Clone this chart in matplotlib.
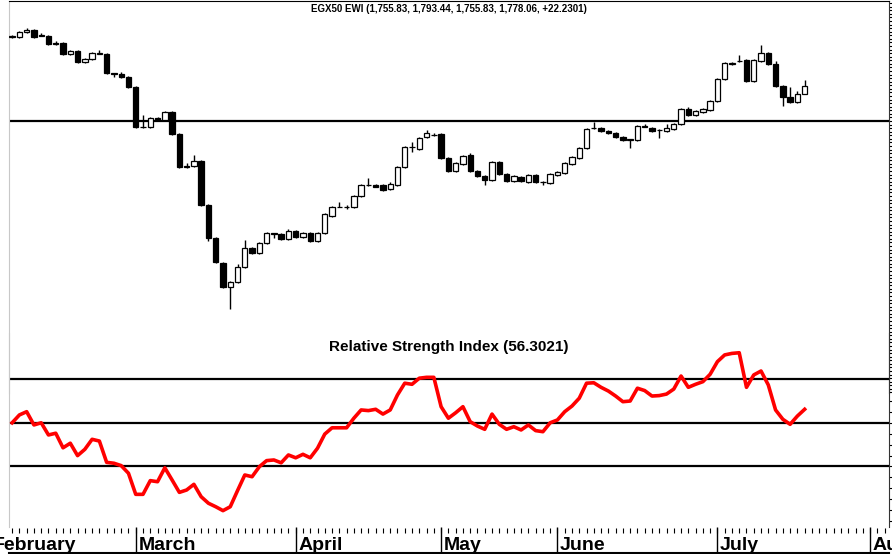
import matplotlib
matplotlib.use("Agg")
import matplotlib.pyplot as plt
import numpy as np

plt.rcParams["font.family"] = ["Liberation Sans", "DejaVu Sans"]

# ── Data (daily, EGX50 EWI, Feb 5 .. Jul 2020, trading-day index) ────────────
OPEN = [1917, 1915, 1929, 1935, 1921, 1918, 1898, 1898, 1868, 1876,
        1845, 1854, 1869, 1868, 1814, 1812, 1803, 1775, 1663, 1663,
        1688, 1683, 1705, 1644, 1553, 1554, 1568, 1445, 1352, 1282,
        1215, 1229, 1271, 1324, 1310, 1338, 1366, 1364, 1350, 1372,
        1355, 1366, 1344, 1366, 1414, 1439, 1439, 1439, 1470, 1501,
        1501, 1501, 1490, 1501, 1551, 1607, 1602, 1635, 1640, 1644,
        1576, 1540, 1560, 1585, 1540, 1526, 1515, 1565, 1532, 1512,
        1523, 1509, 1529, 1509, 1506, 1529, 1534, 1560, 1576, 1604,
        1660, 1660, 1652, 1646, 1635, 1628, 1627, 1666, 1660, 1655,
        1652, 1658, 1672, 1714, 1697, 1705, 1711, 1736, 1798, 1840,
        1848, 1851, 1792, 1848, 1870, 1840, 1778, 1747, 1733, 1755.83]
HIGH = [1920, 1931, 1940, 1937, 1926, 1920, 1904, 1900, 1878, 1878,
        1856, 1872, 1879, 1870, 1815, 1817, 1806, 1777, 1697, 1690,
        1690, 1707, 1707, 1646, 1562, 1585, 1570, 1447, 1354, 1284,
        1231, 1280, 1347, 1327, 1340, 1368, 1367, 1366, 1378, 1374,
        1368, 1368, 1368, 1422, 1441, 1453, 1445, 1472, 1503, 1520,
        1503, 1503, 1509, 1553, 1609, 1621, 1634, 1655, 1646, 1646,
        1578, 1564, 1584, 1590, 1542, 1528, 1567, 1567, 1534, 1528,
        1525, 1531, 1531, 1511, 1534, 1539, 1564, 1581, 1606, 1660,
        1677, 1662, 1654, 1648, 1637, 1631, 1668, 1672, 1662, 1657,
        1672, 1674, 1716, 1719, 1710, 1716, 1738, 1800, 1844, 1845,
        1865, 1853, 1853, 1893, 1872, 1848, 1780, 1775, 1763, 1793.44]
LOW = [1913, 1913, 1927, 1913, 1918, 1894, 1894, 1866, 1866, 1843,
       1843, 1852, 1867, 1812, 1803, 1801, 1772, 1660, 1660, 1661,
       1681, 1681, 1641, 1549, 1548, 1552, 1443, 1344, 1282, 1212,
       1154, 1227, 1269, 1308, 1308, 1336, 1352, 1348, 1348, 1353,
       1353, 1342, 1342, 1364, 1412, 1438, 1434, 1437, 1468, 1499,
       1494, 1484, 1488, 1499, 1549, 1593, 1600, 1633, 1637, 1574,
       1538, 1538, 1558, 1538, 1524, 1501, 1513, 1530, 1510, 1510,
       1510, 1507, 1507, 1501, 1504, 1527, 1532, 1558, 1574, 1602,
       1658, 1650, 1644, 1633, 1625, 1604, 1625, 1662, 1650, 1632,
       1650, 1656, 1670, 1695, 1695, 1703, 1709, 1734, 1796, 1838,
       1845, 1790, 1790, 1846, 1838, 1776, 1722, 1731, 1731, 1755.83]
CLOSE = [1915, 1929, 1935, 1915, 1919, 1896, 1896, 1868, 1876, 1845,
         1854, 1870, 1870, 1814, 1813, 1803, 1775, 1663, 1664, 1688,
         1683, 1705, 1644, 1551, 1551, 1568, 1445, 1352, 1285, 1215,
         1229, 1271, 1324, 1310, 1338, 1366, 1364, 1350, 1372, 1355,
         1366, 1344, 1366, 1420, 1439, 1440, 1438, 1470, 1501, 1502,
         1496, 1487, 1504, 1551, 1607, 1608, 1632, 1646, 1642, 1576,
         1540, 1562, 1582, 1540, 1526, 1515, 1565, 1532, 1512, 1526,
         1512, 1529, 1509, 1510, 1532, 1537, 1562, 1579, 1604, 1658,
         1661, 1652, 1646, 1635, 1627, 1630, 1666, 1664, 1652, 1654,
         1660, 1672, 1714, 1697, 1708, 1714, 1736, 1798, 1842, 1842,
         1847, 1792, 1851, 1870, 1840, 1778, 1747, 1733, 1755.83, 1778.06]

RSI = [50.1, 53.7, 55.2, 49.1, 50.1, 44.5, 45.3, 38.6, 40.7, 35.0,
       37.9, 42.5, 41.7, 31.9, 31.5, 30.4, 26.9, 17.2, 17.2, 23.5,
       23.0, 29.4, 23.8, 18.1, 19.2, 21.8, 16.1, 13.1, 11.5, 9.7,
       11.5, 18.9, 26.1, 25.3, 29.9, 32.7, 33.0, 31.7, 35.3, 34.0,
       35.6, 34.0, 38.4, 44.9, 47.8, 47.8, 47.8, 52.2, 56.0, 55.7,
       56.3, 54.1, 56.0, 62.9, 68.3, 67.8, 70.6, 71.0, 71.0, 57.5,
       52.2, 54.7, 57.5, 50.6, 48.6, 47.1, 54.1, 49.4, 47.1, 48.3,
       46.8, 49.1, 46.5, 46.0, 50.1, 51.4, 55.2, 57.8, 61.4, 68.3,
       68.5, 66.4, 64.7, 62.4, 59.8, 60.1, 66.0, 64.9, 62.4, 62.6,
       63.3, 65.6, 71.6, 66.4, 67.8, 69.0, 72.4, 78.2, 81.3, 82.0,
       82.3, 66.4, 72.1, 73.9, 67.5, 56.0, 51.7, 49.4, 53.2, 56.3]

MONTHS = ["February", "March", "April", "May", "June", "July", "August"]
MONTH_START = [-3, 17, 39, 59, 75, 97, 118]   # trading-day index of 1st session
N_SESSIONS = 121                             # ticks drawn through early Aug
PRICE_LEVEL = 1680
RSI_LEVELS = [70, 50, 30]
TITLE = "EGX50 EWI (1,755.83, 1,793.44, 1,755.83, 1,778.06, +22.2301)"
RSI_TITLE = "Relative Strength Index (56.3021)"

# ── Layout (pixel-based) ──────────────────────────────────────────────────────
W, H = 892, 554
X0, X1 = 9, 889
XLIM = (-0.43, 120.6)


def rect(top, bot):
    return [X0 / W, 1 - bot / H, (X1 - X0) / W, (bot - top) / H]


fig = plt.figure(figsize=(W / 100, H / 100), dpi=100)
fig.patch.set_facecolor("white")

ax_rsi = fig.add_axes(rect(333, 527))
ax_p = fig.add_axes(rect(1, 393))
ax_d = fig.add_axes(rect(527, 553))

for ax in (ax_p, ax_rsi, ax_d):
    ax.set_xlim(*XLIM)
    ax.patch.set_alpha(0)
    ax.set_xticks([])
    for s in ax.spines.values():
        s.set_visible(False)

# ── Price panel ──────────────────────────────────────────────────────────────
o, h, l, c = map(np.asarray, (OPEN, HIGH, LOW, CLOSE))
idx = np.arange(len(o))
ax_p.vlines(idx, l, h, color="black", lw=1, zorder=2)
up = c >= o
ax_p.bar(idx, np.abs(c - o), bottom=np.minimum(o, c), width=0.74,
         color=np.where(up, "white", "black"), edgecolor="black",
         linewidth=0.9, zorder=3)
ax_p.axhline(PRICE_LEVEL, color="black", lw=1.6, zorder=1)
ax_p.set_ylim(918.4, 2016.0)
ax_p.spines["top"].set_visible(True)
ax_p.spines["top"].set_color("black")
ax_p.spines["left"].set_visible(True)
ax_p.spines["left"].set_color("#c8c8c8")
ax_p.spines["right"].set_visible(True)
ax_p.spines["right"].set_color("#333333")
ax_p.yaxis.tick_right()
ax_p.set_yticks(np.arange(920, 2020, 10))
ax_p.tick_params(axis="y", length=3, width=0.8, labelright=False, direction="out")
ax_p.text(0.5, 1 - 8 / 392, TITLE, transform=ax_p.transAxes, ha="center",
          va="center", fontsize=7, fontweight="bold")

# ── RSI panel ────────────────────────────────────────────────────────────────
ax_rsi.plot(idx, RSI, color="#ff0000", lw=2.6, zorder=3)
for lev in RSI_LEVELS:
    ax_rsi.axhline(lev, color="black", lw=1.6, zorder=1)
ax_rsi.set_ylim(2.18, 91.38)
ax_rsi.spines["left"].set_visible(True)
ax_rsi.spines["left"].set_color("#c8c8c8")
ax_rsi.spines["right"].set_visible(True)
ax_rsi.spines["right"].set_color("#333333")
ax_rsi.yaxis.tick_right()
ax_rsi.set_yticks(np.arange(5, 65, 5))
ax_rsi.tick_params(axis="y", length=3, width=0.8, labelright=False, direction="out")
ax_rsi.text(0.5, 1 - 14 / 194, RSI_TITLE, transform=ax_rsi.transAxes,
            ha="center", va="center", fontsize=11, fontweight="bold")

# ── Date axis ────────────────────────────────────────────────────────────────
ax_d.set_ylim(0, 26)
ax_d.spines["bottom"].set_visible(True)
ax_d.spines["bottom"].set_color("black")
ax_d.spines["bottom"].set_linewidth(1.5)
ax_d.set_yticks([])
ax_d.vlines(np.arange(0, N_SESSIONS), 20, 25, color="black", lw=0.8)
ax_d.vlines(MONTH_START, 0, 26, color="black", lw=1.0, clip_on=False)
for m, s in zip(MONTHS, MONTH_START):
    ax_d.text(s + 0.35, -0.5, m, ha="left", va="bottom", fontsize=14,
              fontweight="bold", clip_on=False)

fig.savefig("out.png", dpi=100)
